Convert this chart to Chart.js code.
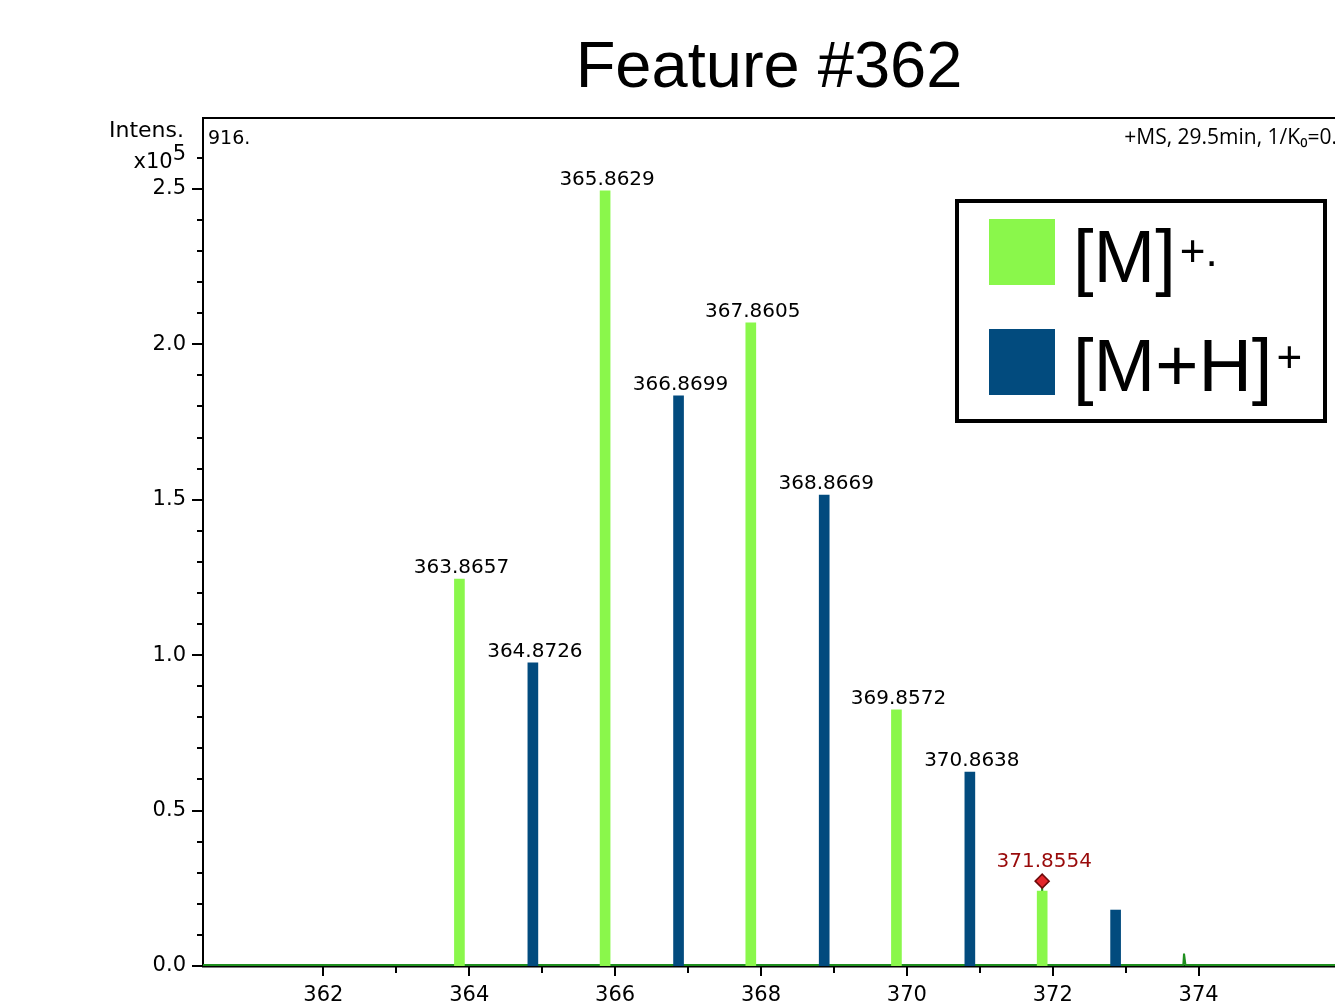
<!DOCTYPE html>
<html>
<head>
<meta charset="utf-8">
<script src="https://cdn.jsdelivr.net/npm/chart.js@4.4.1/dist/chart.umd.min.js"></script>
<style>
html, body { margin: 0; padding: 0; background: #fff; overflow: hidden; }
</style>
</head>
<body>
<canvas id="spectrumChart" width="1335" height="1001"></canvas>
<script>
var chartTitle = "Feature #362";
var seriesNames = ["[M]", "[M+H]"];
var seriesCharges = ["+.", "+"];
var seriesColors = ["#8af74b", "#024b7e"];

// [M]+. isotope peaks (m/z, intensity x10^5)
var mPlusMz = [363.8657, 365.8629, 367.8605, 369.8572, 371.8554];
var mPlusIntens = [1.245, 2.494, 2.069, 0.824, 0.241];
var mPlusLabels = ["363.8657", "365.8629", "367.8605", "369.8572", ""];

// [M+H]+ isotope peaks
var mHMz = [364.8726, 366.8699, 368.8669, 370.8638, 372.862];
var mHIntens = [0.975, 1.834, 1.515, 0.624, 0.180];
var mHLabels = ["364.8726", "366.8699", "368.8669", "370.8638", ""];

// marked peak (red diamond)
var markedMz = [371.8554];
var markedIntens = [0.273];
var markedLabels = ["371.8554"];

// raw profile trace
var profileMz = [360.35, 363.83, 363.85, 363.87, 371.84, 371.855, 371.87, 373.79, 373.80, 373.82, 375.87];
var profileIntens = [0.003, 0.003, 0.02, 0.003, 0.003, 0.26, 0.003, 0.003, 0.04, 0.003, 0.003];

var xLabelTicks = [362, 364, 366, 368, 370, 372, 374];
var yLabelTicks = [0, 0.5, 1.0, 1.5, 2.0, 2.5];
var yAxisTitle = ["Intens.", "x10", "5"];
var cornerTextLeft = "916.";
var cornerTextRight = "+MS, 29.5min, 1/K\u2080=0.";

function toPoints(xs, ys) {
    return xs.map((x, i) => ({ x: x, y: ys[i] }));
}

function tenths(v) { return Math.round(v * 10); }

const decorations = {
    id: 'decorations',
    afterDatasetsDraw(chart) {
        const ctx = chart.ctx;
        ctx.save();
        ctx.font = '20px "DejaVu Sans"';
        ctx.textAlign = 'center';
        ctx.textBaseline = 'alphabetic';
        [[1, mPlusLabels, '#000'], [2, mHLabels, '#000']].forEach(([idx, labels, color]) => {
            chart.getDatasetMeta(idx).data.forEach((el, j) => {
                if (!labels[j]) return;
                ctx.fillStyle = color;
                ctx.fillText(labels[j], el.x + 2, el.y - 6);
            });
        });
        chart.getDatasetMeta(0).data.forEach((el, j) => {
            ctx.fillStyle = '#990a0a';
            ctx.fillText(markedLabels[j], el.x + 2, el.y - 14);
        });
        ctx.restore();
    },
    afterDraw(chart) {
        const ctx = chart.ctx, area = chart.chartArea;
        const x = chart.scales.x, y = chart.scales.y;
        ctx.save();
        ctx.fillStyle = '#000';
        ctx.strokeStyle = '#000';

        // title
        ctx.font = '65px "Liberation Sans"';
        ctx.textAlign = 'center';
        ctx.textBaseline = 'alphabetic';
        ctx.fillText(chartTitle, (area.left + area.right) / 2, 87);

        // top frame line
        ctx.lineWidth = 2;
        ctx.beginPath();
        ctx.moveTo(area.left, area.top);
        ctx.lineTo(area.right, area.top);
        ctx.stroke();

        // y tick marks
        y.ticks.forEach(t => {
            const py = Math.round(y.getPixelForValue(t.value));
            const r = tenths(t.value);
            const len = (r % 5 == 0 || r == 27) ? 11 : 6;
            ctx.beginPath();
            ctx.moveTo(area.left - len, py);
            ctx.lineTo(area.left, py);
            ctx.stroke();
        });
        // x tick marks
        x.ticks.forEach(t => {
            const px = Math.round(x.getPixelForValue(t.value));
            const len = Math.round(t.value) % 2 == 0 ? 10 : 7;
            ctx.beginPath();
            ctx.moveTo(px, area.bottom);
            ctx.lineTo(px, area.bottom + len);
            ctx.stroke();
        });

        // axis title in tick column
        ctx.font = '22px "DejaVu Sans"';
        ctx.textAlign = 'right';
        ctx.textBaseline = 'middle';
        ctx.fillText(yAxisTitle[0], 184, y.getPixelForValue(2.7) + 5);
        ctx.font = '21px "DejaVu Sans"';
        const supW = ctx.measureText(yAxisTitle[2]).width;
        ctx.fillText(yAxisTitle[1], 186 - supW, y.getPixelForValue(2.6) + 5);
        ctx.fillText(yAxisTitle[2], 186, y.getPixelForValue(2.6) - 3);

        // corner texts
        ctx.font = '19px "DejaVu Sans"';
        ctx.textAlign = 'left';
        ctx.textBaseline = 'alphabetic';
        ctx.fillText(cornerTextLeft, area.left + 5, area.top + 26);
        ctx.font = '21px "Open Sans"';
        ctx.textAlign = 'right';
        ctx.fillText(cornerTextRight, area.right + 2, area.top + 26);

        // legend
        const lx = area.right - 378, ly = area.top + 83;
        ctx.lineWidth = 4;
        ctx.strokeRect(lx, ly, 368, 220);
        const rows = [[ly + 18, ly + 81, ly + 65], [ly + 128, ly + 190, ly + 171]];
        seriesNames.forEach((name, i) => {
            const [top, base, supBase] = rows[i];
            ctx.fillStyle = seriesColors[i];
            ctx.fillRect(lx + 32, top, 66, 66);
            ctx.fillStyle = '#000';
            ctx.font = '74px "Liberation Sans"';
            ctx.textAlign = 'left';
            ctx.fillText(name, lx + 116, base);
            const w = ctx.measureText(name).width;
            ctx.font = '44px "Liberation Sans"';
            ctx.fillText(seriesCharges[i], lx + 116 + w + 4, supBase);
        });
        ctx.restore();
    }
};

var canvas = document.getElementById("spectrumChart");
var spectrumChart = new Chart(canvas, {
    type: 'bar',
    data: {
        datasets: [{
            label: 'marked',
            type: 'scatter',
            data: toPoints(markedMz, markedIntens),
            pointStyle: 'rectRot',
            pointRadius: 7,
            backgroundColor: '#e3262b',
            borderColor: '#6e0a0a',
            borderWidth: 1.5,
            order: 0
        }, {
            label: seriesNames[0] + seriesCharges[0],
            data: toPoints(mPlusMz, mPlusIntens),
            backgroundColor: seriesColors[0],
            barThickness: 10,
            order: 1
        }, {
            label: seriesNames[1] + seriesCharges[1],
            data: toPoints(mHMz, mHIntens),
            backgroundColor: seriesColors[1],
            barThickness: 10,
            order: 1
        }, {
            label: 'profile',
            type: 'line',
            data: toPoints(profileMz, profileIntens),
            borderColor: '#1f8f1f',
            borderWidth: 2,
            pointRadius: 0,
            tension: 0,
            order: 3
        }]
    },
    options: {
        responsive: false,
        animation: false,
        layout: { autoPadding: false, padding: { top: 118, left: 0, right: 0, bottom: 0 } },
        datasets: { bar: { grouped: false } },
        plugins: {
            legend: { display: false },
            tooltip: { enabled: false },
            title: { display: false }
        },
        scales: {
            x: {
                type: 'linear',
                min: 360.35,
                max: 375.87,
                offset: false,
                afterBuildTicks: s => { s.ticks = s.ticks.filter(t => Math.abs(t.value - Math.round(t.value)) < 1e-6); },
                afterFit: s => { s.height = 35; s.paddingLeft = 0; s.paddingRight = 0; },
                ticks: {
                    stepSize: 1,
                    autoSkip: false,
                    maxRotation: 0,
                    padding: 17,
                    color: '#000',
                    font: { family: 'DejaVu Sans', size: 21 },
                    callback: v => xLabelTicks.includes(Math.round(v)) ? String(Math.round(v)) : ''
                },
                grid: { display: false, drawTicks: false },
                border: { display: true, color: '#000', width: 2.5 }
            },
            y: {
                min: 0,
                max: 2.728,
                afterBuildTicks: s => { s.ticks = s.ticks.filter(t => Math.abs(t.value * 10 - tenths(t.value)) < 1e-6); },
                afterFit: s => { s.width = 203; s.paddingTop = 0; s.paddingBottom = 0; },
                ticks: {
                    stepSize: 0.1,
                    autoSkip: false,
                    padding: 17,
                    color: '#000',
                    font: { family: 'DejaVu Sans', size: 21 },
                    callback: v => yLabelTicks.some(l => tenths(l) == tenths(v)) ? (tenths(v) / 10).toFixed(1) : ''
                },
                grid: { display: false, drawTicks: false },
                border: { display: true, color: '#000', width: 2 }
            }
        }
    },
    plugins: [decorations]
});
</script>
</body>
</html>
